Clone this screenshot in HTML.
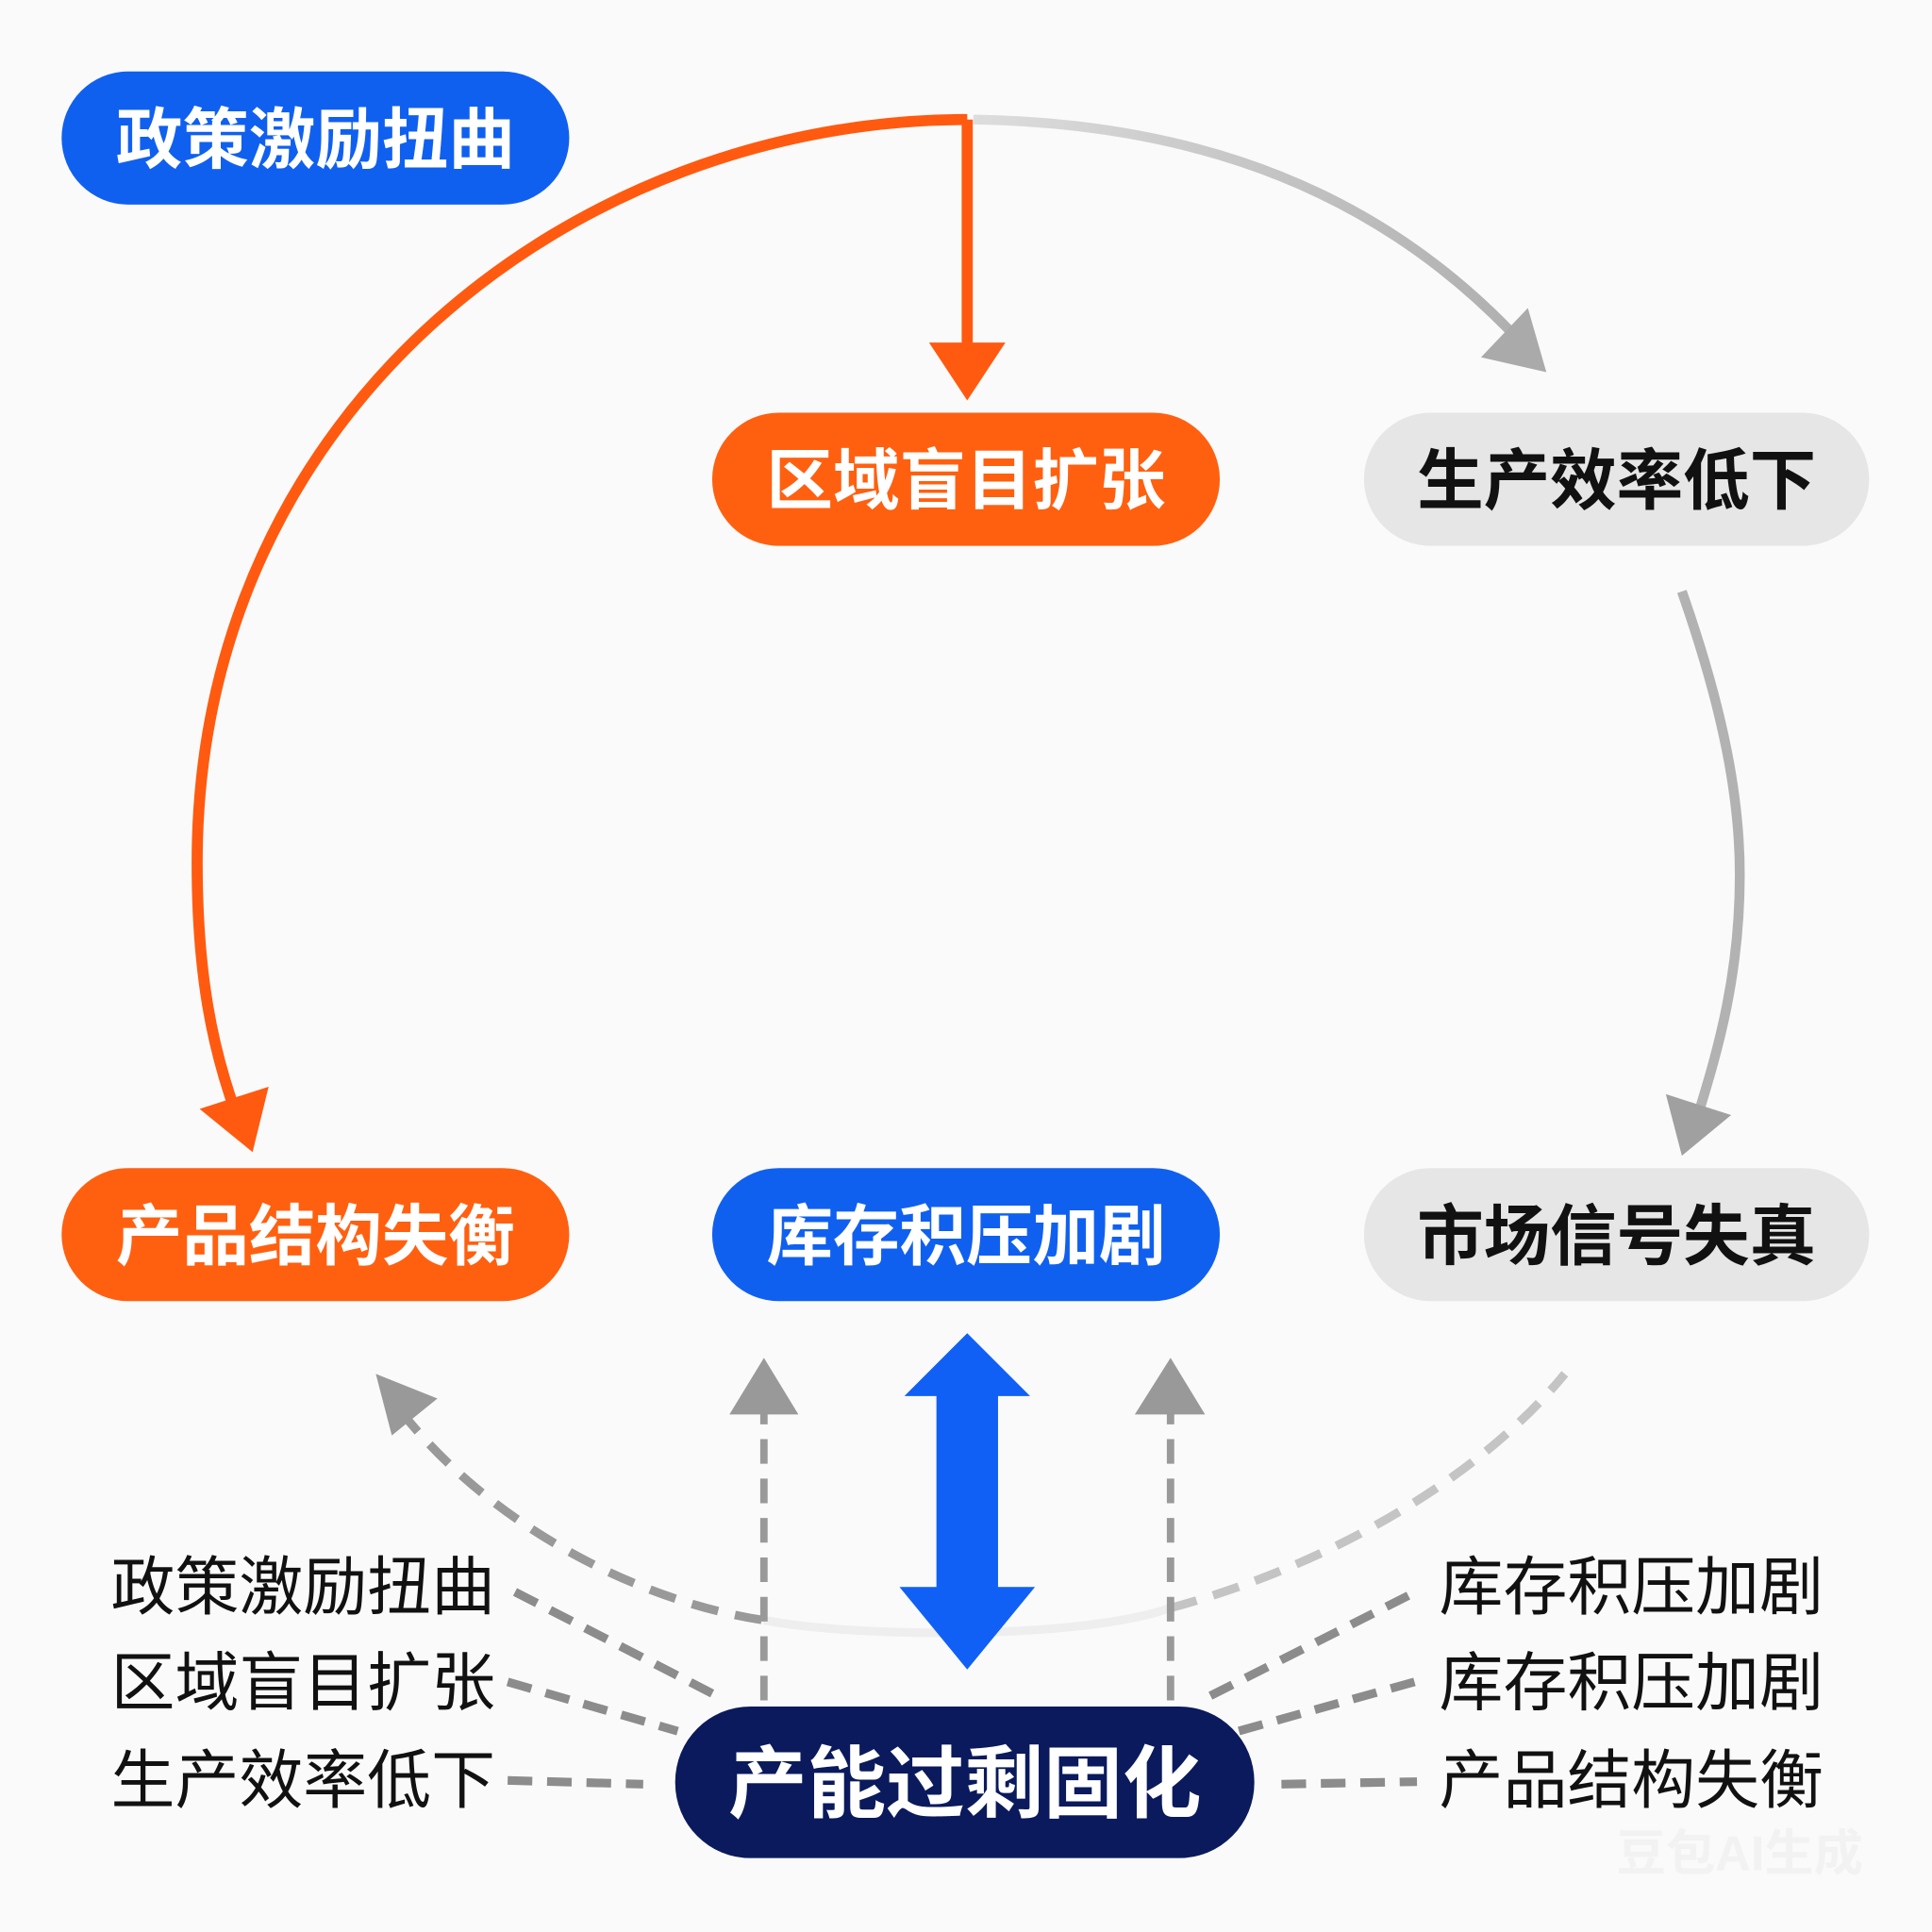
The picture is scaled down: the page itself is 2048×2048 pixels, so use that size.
<!DOCTYPE html>
<html><head><meta charset="utf-8"><style>
html,body{margin:0;padding:0;background:#fafafa;}
svg{display:block;}
text{font-family:"Liberation Sans","Noto Sans CJK SC",sans-serif;}
</style></head><body>
<svg width="2048" height="2048" viewBox="0 0 1568 1568" xmlns="http://www.w3.org/2000/svg">
<defs>
<linearGradient id="ga" x1="0" y1="0" x2="1" y2="0">
<stop offset="0" stop-color="#ddd"/><stop offset="1" stop-color="#b0b0b0"/></linearGradient>
<linearGradient id="fr" x1="0" y1="1" x2="1" y2="0">
<stop offset="0" stop-color="#f4f4f4"/><stop offset="1" stop-color="#eee"/></linearGradient>
</defs>
<rect width="1568" height="1568" fill="#fafafa"/>
<!-- orange arc -->
<path d="M785,97 C470,97 160,330 160,700 C160,790 172,850 192,905" fill="none" stroke="#ff5a10" stroke-width="9"/>
<polygon points="162,900 218,882 205,935" fill="#ff5a10"/>
<line x1="785" y1="97" x2="785" y2="285" stroke="#ff5a10" stroke-width="9"/>
<polygon points="754,278 816,278 785,325" fill="#ff5a10"/>
<!-- gray arcs -->
<path d="M790,97 C980,100 1120,160 1225,268" fill="none" stroke="url(#ga)" stroke-width="8"/>
<polygon points="1202,290 1240,250 1255,302" fill="#aaa"/>
<path d="M1365,480 C1400,580 1412,650 1412,710 C1412,790 1395,850 1378,905" fill="none" stroke="#b2b2b2" stroke-width="8"/>
<polygon points="1352,888 1405,905 1365,938" fill="#a0a0a0"/>
<!-- dashed gray arcs -->
<path d="M325,1145 C400,1240 520,1300 620,1315" fill="none" stroke="#999" stroke-width="7" stroke-dasharray="22,14"/>
<path d="M620,1315 C700,1330 880,1330 950,1305" fill="none" stroke="#eee" stroke-width="7"/>
<path d="M950,1305 C1080,1270 1200,1200 1270,1115" fill="none" stroke="#c4c4c4" stroke-width="7" stroke-dasharray="22,14"/>
<polygon points="305,1115 355,1135 318,1165" fill="#999"/>
<line x1="620" y1="1380" x2="620" y2="1140" stroke="#999" stroke-width="6" stroke-dasharray="20,12"/>
<polygon points="592,1148 620,1102 648,1148" fill="#999"/>
<line x1="950" y1="1380" x2="950" y2="1140" stroke="#999" stroke-width="6" stroke-dasharray="20,12"/>
<polygon points="921,1148 950,1102 978,1148" fill="#999"/>
<!-- blue double arrow -->
<polygon points="785,1082 836,1133 810,1133 810,1288 840,1288 785,1355 730,1288 760,1288 760,1133 734,1133" fill="#1060f5"/>
<!-- dashed connectors -->
<g stroke="#8c8c8c" stroke-width="7" stroke-dasharray="20,12" fill="none">
<line x1="418" y1="1292" x2="585" y2="1378"/>
<line x1="412" y1="1365" x2="550" y2="1405"/>
<line x1="412" y1="1445" x2="522" y2="1448"/>
<line x1="1143" y1="1295" x2="975" y2="1380"/>
<line x1="1148" y1="1365" x2="1005" y2="1405"/>
<line x1="1040" y1="1448" x2="1150" y2="1446"/>
</g>
<!-- pills -->
<g font-weight="bold" font-size="54" text-anchor="middle">
<rect x="50" y="58" width="412" height="108" rx="54" fill="#1060f0"/>
<text x="256" y="132" fill="#fff">政策激励扭曲</text>
<rect x="578" y="335" width="412" height="108" rx="54" fill="#ff6010"/>
<text x="784" y="409" fill="#fff">区域盲目扩张</text>
<rect x="1107" y="335" width="410" height="108" rx="54" fill="#e6e6e6"/>
<text x="1312" y="409" fill="#111">生产效率低下</text>
<rect x="50" y="948" width="412" height="108" rx="54" fill="#ff6010"/>
<text x="256" y="1022" fill="#fff">产品结构失衡</text>
<rect x="578" y="948" width="412" height="108" rx="54" fill="#1060f0"/>
<text x="784" y="1022" fill="#fff">库存积压加剧</text>
<rect x="1107" y="948" width="410" height="108" rx="54" fill="#e6e6e6"/>
<text x="1312" y="1022" fill="#111">市场信号失真</text>
<rect x="548" y="1385" width="470" height="123" rx="61" fill="#0a1a5c"/>
<text x="783" y="1470" fill="#fff" font-size="64">产能过剩固化</text>
</g>
<g font-size="52" fill="#111">
<text x="90" y="1306">政策激励扭曲</text>
<text x="90" y="1384">区域盲目扩张</text>
<text x="90" y="1463">生产效率低下</text>
<text x="1168" y="1306">库存积压加剧</text>
<text x="1168" y="1384">库存积压加剧</text>
<text x="1168" y="1463">产品结构失衡</text>
</g>
<text x="1312" y="1518" font-size="40" font-weight="bold" fill="#f2f2f2">豆包AI生成</text>
</svg>
</body></html>
